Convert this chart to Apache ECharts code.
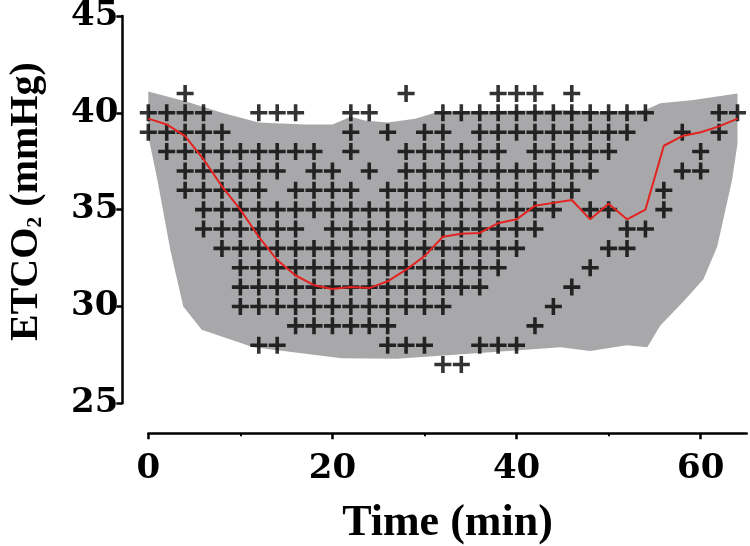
<!DOCTYPE html>
<html>
<head>
<meta charset="utf-8">
<script src="https://cdn.jsdelivr.net/npm/echarts@6/dist/echarts.min.js"></script>
<style>
html,body{margin:0;padding:0;background:#fff;}
#c{width:750px;height:546px;}
</style>
</head>
<body>
<div id="c"></div>
<script>
// ---- data ----
const xTicks = [0, 20, 40, 60];
const xMinorTicks = [10, 30, 50];
const yTicks = [25, 30, 35, 40, 45];

// mean ETCO2 (red line)
const meanX = [0, 2, 4, 6, 8, 10, 12, 14, 16, 18, 20, 22, 24, 26, 28, 30, 32, 34, 36, 38, 40, 42, 44, 46, 48, 50, 52, 54, 56, 58, 60, 62, 64];
const meanY = [39.7, 39.4, 38.8, 37.6, 36.2, 35.0, 33.6, 32.4, 31.6, 31.1, 30.9, 31.0, 30.95, 31.3, 31.9, 32.6, 33.6, 33.75, 33.8, 34.3, 34.5, 35.2, 35.35, 35.5, 34.5, 35.3, 34.5, 35.0, 38.3, 38.8, 39.0, 39.3, 39.7];

// grey envelope: upper edge (left->right) and lower edge (right->left)
const bandUpper = [[0, 41.1], [4, 40.6], [8, 40.0], [12, 39.5], [17, 39.4], [20, 39.4], [22, 39.8], [23.5, 39.6], [26, 39.5], [29, 39.7], [31.5, 40.05], [45, 40.15], [49, 40.05], [54, 40.15], [55.6, 40.5], [59, 40.65], [64, 41.0]];
const bandLower = [[64, 38.4], [63.4, 36.5], [61.8, 33.1], [60.3, 31.4], [58.2, 30.3], [55.6, 29.0], [54.2, 27.9], [52, 28.0], [48, 27.7], [44.8, 27.9], [36, 27.6], [27, 27.3], [21, 27.33], [11.4, 27.9], [5.8, 28.8], [3.8, 30.0], [2.4, 32.9], [1, 36.5], [0, 38.8]];

// individual readings ("+"), x positions per ETCO2 level
const row41 = [4, 28, 38, 40, 42, 46];
const row40 = [0, 2, 4, 6, 12, 14, 16, 22, 24, 32, 34, 36, 38, 40, 42, 44, 46, 48, 50, 52, 54, 62, 64];
const row39 = [0, 2, 4, 6, 8, 22, 26, 30, 32, 36, 38, 40, 42, 44, 46, 48, 50, 52, 58, 62];
const row38 = [2, 4, 6, 8, 10, 12, 14, 16, 18, 22, 28, 30, 32, 34, 36, 38, 42, 44, 46, 48, 50, 60];
const row37 = [4, 6, 8, 10, 12, 14, 18, 20, 24, 28, 30, 32, 34, 36, 38, 40, 42, 44, 46, 48, 58, 60];
const row36 = [4, 6, 8, 10, 12, 16, 18, 20, 22, 26, 28, 30, 32, 34, 36, 38, 40, 42, 44, 46, 56];
const row35 = [6, 8, 10, 12, 14, 16, 18, 20, 22, 24, 26, 28, 30, 32, 34, 36, 38, 40, 42, 44, 48, 50, 56];
const row34 = [6, 8, 10, 12, 14, 16, 20, 22, 24, 26, 28, 30, 32, 34, 36, 38, 40, 42, 52, 54];
const row33 = [8, 10, 12, 14, 16, 18, 20, 22, 24, 26, 28, 30, 32, 34, 36, 38, 40, 50, 52];
const row32 = [10, 12, 14, 16, 18, 20, 22, 24, 26, 28, 30, 32, 34, 36, 38, 48];
const row31 = [10, 12, 14, 16, 18, 20, 22, 24, 26, 28, 30, 32, 34, 36, 46];
const row30 = [10, 12, 14, 16, 18, 20, 22, 24, 26, 28, 30, 32, 44];
const row29 = [16, 18, 20, 22, 24, 26, 42];
const row28 = [12, 14, 26, 28, 30, 36, 38, 40];
const row27 = [32, 34];

const rows = [[41, row41], [40, row40], [39, row39], [38, row38], [37, row37], [36, row36], [35, row35], [34, row34], [33, row33], [32, row32], [31, row31], [30, row30], [29, row29], [28, row28], [27, row27]];
const plusData = [];
rows.forEach(function (r) { r[1].forEach(function (x) { plusData.push([x, r[0]]); }); });
const meanData = meanX.map(function (x, i) { return [x, meanY[i]]; });

const tickFont = 'DejaVu Serif';
const titleFont = 'Liberation Serif';
const plusPath = 'path://M7.5,0H11.5V7.5H19V11.5H11.5V19H7.5V11.5H0V7.5H7.5Z';

const chart = echarts.init(document.getElementById('c'), null, { renderer: 'canvas' });
chart.setOption({
  animation: false,
  backgroundColor: '#fff',
  grid: { left: 148.3, right: 3.3, top: 16, bottom: 142.7, containLabel: false, outerBoundsMode: 'none' },
  xAxis: [{
    type: 'value', min: 0, max: 65, offset: 30, position: 'bottom',
    axisLine: { show: true, onZero: false, lineStyle: { color: '#000', width: 2.5 } },
    axisTick: { show: true, customValues: xTicks, length: 6, lineStyle: { color: '#000', width: 2.5 } },
    axisLabel: { customValues: xTicks, color: '#000', fontFamily: tickFont, fontWeight: 'bold', fontSize: 34, margin: 19 },
    splitLine: { show: false },
    name: 'Time (min)', nameLocation: 'middle', nameGap: 68, nameMoveOverlap: false,
    nameTextStyle: { color: '#000', fontFamily: titleFont, fontWeight: 'bold', fontSize: 44 }
  }, {
    type: 'value', min: 0, max: 65, offset: 30, position: 'bottom',
    axisLine: { show: false, onZero: false },
    axisTick: { show: true, customValues: xMinorTicks, length: 3, lineStyle: { color: '#000', width: 2 } },
    axisLabel: { show: false },
    splitLine: { show: false }
  }],
  yAxis: {
    type: 'value', min: 25, max: 45, interval: 5, offset: 26,
    axisLine: { show: true, onZero: false, lineStyle: { color: '#000', width: 2.5 } },
    axisTick: { show: true, customValues: yTicks, length: 6, lineStyle: { color: '#000', width: 2.5 } },
    axisLabel: { customValues: yTicks, color: '#000', fontFamily: tickFont, fontWeight: 'bold', fontSize: 34, margin: 4 },
    splitLine: { show: false },
    name: '{a|ETCO}{s|2}{a| (mmHg)}', nameLocation: 'middle', nameGap: 76, nameMoveOverlap: false,
    nameTextStyle: {
      padding: [0, 0, 0, 16],
      rich: {
        a: { color: '#000', fontFamily: titleFont, fontWeight: 'bold', fontSize: 40, lineHeight: 40 },
        s: { color: '#000', fontFamily: titleFont, fontWeight: 'bold', fontSize: 22, lineHeight: 22, verticalAlign: 'bottom' }
      }
    }
  },
  series: [{
    type: 'custom',
    silent: true,
    z: 1,
    data: [[0, 25]],
    renderItem: function (params, api) {
      const pts = bandUpper.concat(bandLower).map(function (p) { return api.coord(p); });
      return { type: 'polygon', shape: { points: pts }, style: { fill: '#a8a8aa' } };
    }
  }, {
    type: 'scatter',
    z: 2,
    symbol: plusPath,
    symbolSize: 17,
    itemStyle: { color: '#000' },
    data: plusData
  }, {
    type: 'line',
    z: 3,
    symbol: 'none',
    lineStyle: { color: '#e3231f', width: 2 },
    data: meanData
  }]
});
</script>
</body>
</html>
